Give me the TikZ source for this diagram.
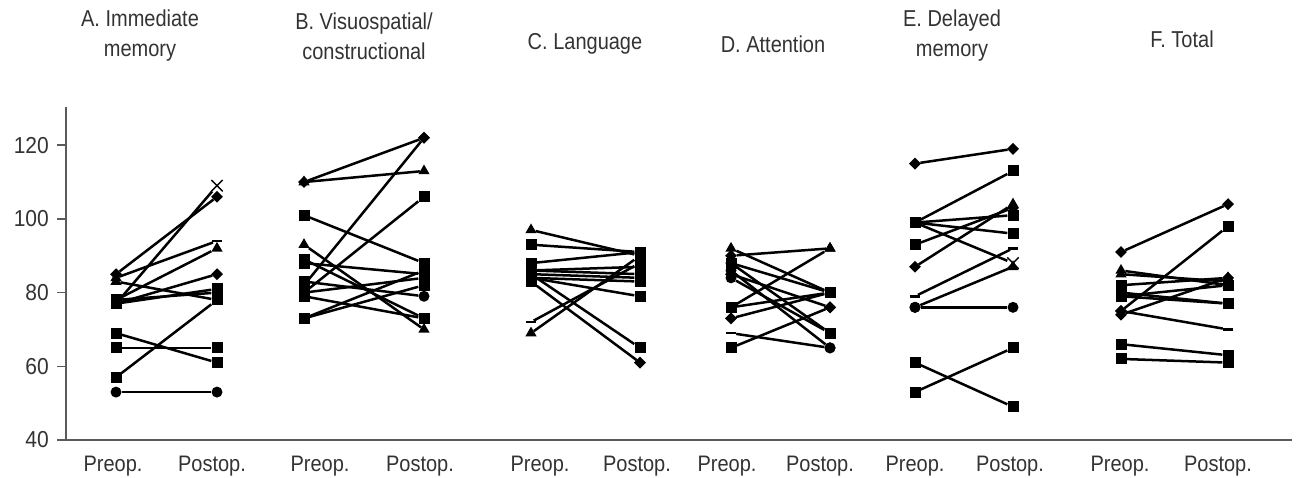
\documentclass[tikz,border=0pt]{standalone}
\usepackage{fontspec}
\setmainfont{Liberation Sans}
\usetikzlibrary{shapes.geometric,shapes.misc}
\definecolor{axisgray}{HTML}{5A5A5A}
\definecolor{textgray}{HTML}{333333}

\begin{document}
\begin{tikzpicture}[x=1pt, y=1pt,
    mksq/.style={rectangle, fill=black, minimum size=11pt, inner sep=0pt},
    mkdia/.style={diamond, fill=black, minimum size=12pt, inner sep=0pt},
    mktri/.style={regular polygon, regular polygon sides=3, fill=black, minimum size=13pt, inner sep=0pt},
    mkcirc/.style={circle, fill=black, minimum size=11pt, inner sep=0pt},
    mkcross/.style={cross out, draw=black, line width=1.4pt, minimum size=10pt, inner sep=0pt},
    mkdash/.style={rectangle, fill=black, minimum width=10pt, minimum height=2.5pt, inner sep=0pt},
    pairline/.style={line width=2.5pt, black},
    paneltitle/.style={font=\fontsize{20}{26}\selectfont, text=textgray, align=center, yscale=1.15, transform shape},
    xlab/.style={font=\fontsize{20}{22}\selectfont, text=textgray, yscale=1.12, transform shape},
    ticklab/.style={font=\fontsize{21}{22}\selectfont, text=textgray, anchor=east, inner sep=0pt, yscale=1.1, transform shape}
  ]
  \useasboundingbox (0,0) rectangle (1298,478);

  % --- titoli dei pannelli ---
  \node[paneltitle] (tA) at (140,442) {A. Immediate\\memory};
  \node[paneltitle] (tB) at (364,442) {B. Visuospatial/\\constructional};
  \node[paneltitle] (tC) at (585,434) {C. Language};
  \node[paneltitle] (tD) at (773,434) {D. Attention};
  \node[paneltitle] (tE) at (952,442) {E. Delayed\\memory};
  \node[paneltitle] (tF) at (1182,439) {F. Total};

  % --- etichette asse x ---
  \foreach \xp/\lab [count=\i] in {113/Preop., 212/Postop., 320/Preop., 420/Postop.,
      540/Preop., 637/Postop., 727/Preop., 820/Postop., 915/Preop., 1010/Postop.,
      1120/Preop., 1218/Postop.}
    \node[xlab] (xl\i) at (\xp,12) {\lab};

  \begin{scope}[y=3.685pt, yshift=-109.4pt]
    % assi
    \draw[axisgray, line width=1.8pt] (66,130.4) -- (66,40) -- (1292,40);
    \foreach \v in {40,60,...,120} {
      \draw[axisgray, line width=1.5pt] (57,\v) -- (66,\v);
      \node[ticklab] (tick\v) at (49,\v) {\v};
    }

    % --- A: memoria immediata ---
    \begin{scope}[xshift=116pt]
      \foreach \pre/\post/\ma/\mb [count=\i] in {85/106/mkdia/mkdia, 77/109/mksq/mkcross,
          84/94/mktri/mkdash, 78/92/mksq/mktri, 77/85/mksq/mkdia, 77/81/mksq/mksq,
          78/80/mksq/mksq, 83/78/mktri/mksq, 69/61/mksq/mksq, 65/65/mksq/mksq,
          57/78/mksq/mksq, 53/53/mkcirc/mkcirc} {
        \node[\ma] (A\i-pre) at (0,\pre) {};
        \node[\mb] (A\i-post) at (101,\post) {};
        \draw[pairline] (A\i-pre) -- (A\i-post);
      }
    \end{scope}

    % --- B: visuospaziale ---
    \begin{scope}[xshift=304pt]
      \foreach \pre/\post/\ma/\mb [count=\i] in {110/122/mkdia/mkdia, 110/113/mktri/mktri,
          82/122/mksq/mkdia, 80/106/mksq/mksq, 101/88/mksq/mksq, 93/70/mktri/mktri,
          89/73/mksq/mksq, 88/85/mksq/mksq, 83/79/mksq/mkcirc, 80/84/mksq/mksq,
          79/73/mksq/mksq, 73/86/mksq/mksq, 73/82/mksq/mksq} {
        \node[\ma] (B\i-pre) at (0,\pre) {};
        \node[\mb] (B\i-post) at (120,\post) {};
        \draw[pairline] (B\i-pre) -- (B\i-post);
      }
    \end{scope}

    % --- C: linguaggio ---
    \begin{scope}[xshift=531pt]
      \foreach \pre/\post/\ma/\mb [count=\i] in {97/90/mktri/mksq, 93/91/mksq/mksq,
          88/91/mksq/mksq, 86/87/mksq/mksq, 86/85/mksq/mksq, 85/84/mksq/mksq,
          84/83/mksq/mksq, 84/79/mksq/mksq, 85/65/mksq/mksq, 83/61/mksq/mkdia,
          72/88/mkdash/mksq, 69/90/mktri/mksq} {
        \node[\ma] (C\i-pre) at (0,\pre) {};
        \node[\mb] (C\i-post) at (109,\post) {};
        \draw[pairline] (C\i-pre) -- (C\i-post);
      }
    \end{scope}

    % --- D: attenzione ---
    \begin{scope}[xshift=731pt]
      \foreach \pre/\post/\ma/\mb [count=\i] in {92/80/mktri/mksq, 90/92/mkdia/mktri,
          88/69/mkcirc/mksq, 86/65/mkcirc/mkcirc, 85/76/mkdia/mkdia, 88/80/mksq/mksq,
          84/69/mkcirc/mksq, 76/92/mksq/mktri, 76/80/mksq/mksq, 73/80/mkdia/mksq,
          69/65/mkdash/mkcirc, 65/76/mksq/mkdia} {
        \node[\ma] (D\i-pre) at (0,\pre) {};
        \node[\mb] (D\i-post) at (99,\post) {};
        \draw[pairline] (D\i-pre) -- (D\i-post);
      }
    \end{scope}

    % --- E: memoria differita ---
    \begin{scope}[xshift=915pt]
      \foreach \pre/\post/\ma/\mb [count=\i] in {115/119/mkdia/mkdia, 99/113/mksq/mksq,
          99/101/mksq/mksq, 99/96/mksq/mksq, 99/88/mksq/mkcross, 93/103/mksq/mkdia,
          87/104/mkdia/mktri, 79/92/mkdash/mkdash, 76/87/mkcirc/mktri, 76/76/mkcirc/mkcirc,
          61/49/mksq/mksq, 53/65/mksq/mksq} {
        \node[\ma] (E\i-pre) at (0,\pre) {};
        \node[\mb] (E\i-post) at (98,\post) {};
        \draw[pairline] (E\i-pre) -- (E\i-post);
      }
    \end{scope}

    % --- F: totale ---
    \begin{scope}[xshift=1121pt]
      \foreach \pre/\post/\ma/\mb [count=\i] in {91/104/mkdia/mkdia, 75/98/mkdia/mksq,
          86/82/mktri/mktri, 85/83/mktri/mkdia, 82/84/mksq/mkdia, 80/77/mksq/mksq,
          79/82/mksq/mksq, 79/77/mksq/mksq, 74/84/mkdia/mktri, 75/70/mkdia/mkdash,
          66/63/mksq/mksq, 62/61/mksq/mksq} {
        \node[\ma] (F\i-pre) at (0,\pre) {};
        \node[\mb] (F\i-post) at (107,\post) {};
        \draw[pairline] (F\i-pre) -- (F\i-post);
      }
    \end{scope}
  \end{scope}
\end{tikzpicture}
\end{document}
